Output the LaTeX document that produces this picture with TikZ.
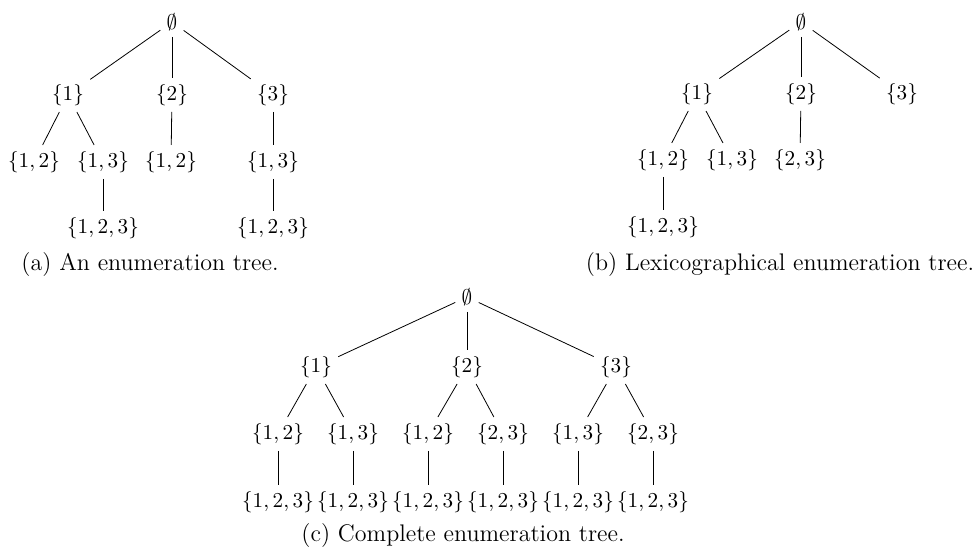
\RequirePackage{fix-cm}
\documentclass[tikz,border=0pt]{standalone}
\begin{document}
\begin{tikzpicture}[x=0.5pt, y=-0.5pt, set/.style={inner sep=3pt, font=\fontsize{10.6}{12.7}\selectfont}, capt/.style={font=\large}]
	\useasboundingbox (0,0) rectangle (976,555);

	% (a)
	\node[set] (ra) at (172,22) {$\emptyset$};
	\node[set] (a1) at (68,95) {$\{1\}$};
	\node[set] (a2) at (172,95) {$\{2\}$};
	\node[set] (a3) at (273,95) {$\{3\}$};
	\node[set] (a12) at (34,162) {$\{1,2\}$};
	\node[set] (a13) at (103,162) {$\{1,3\}$};
	\node[set] (a2x) at (171,162) {$\{1,2\}$};
	\node[set] (a3x) at (273,162) {$\{1,3\}$};
	\node[set] (a123) at (103,228) {$\{1,2,3\}$};
	\node[set] (a3y) at (273,228) {$\{1,2,3\}$};
	\node[capt] (capa) at (150,265) {(a) An enumeration tree.};

	\draw (ra) -- (a1);
	\draw (ra) -- (a2);
	\draw (ra) -- (a3);
	\draw (a1) -- (a12);
	\draw (a1) -- (a13);
	\draw (a2) -- (a2x);
	\draw (a3) -- (a3x);
	\draw (a13) -- (a123);
	\draw (a3x) -- (a3y);

	% (b)
	\node[set] (rb) at (801,22) {$\emptyset$};
	\node[set] (b1) at (697,94) {$\{1\}$};
	\node[set] (b2) at (801,94) {$\{2\}$};
	\node[set] (b3) at (902,94) {$\{3\}$};
	\node[set] (b12) at (663,160) {$\{1,2\}$};
	\node[set] (b13) at (732,160) {$\{1,3\}$};
	\node[set] (b23) at (800,160) {$\{2,3\}$};
	\node[set] (b123) at (663,227) {$\{1,2,3\}$};
	\node[capt] (capb) at (780,265) {(b) Lexicographical enumeration tree.};

	\draw (rb) -- (b1);
	\draw (rb) -- (b2);
	\draw (rb) -- (b3);
	\draw (b1) -- (b12);
	\draw (b1) -- (b13);
	\draw (b2) -- (b23);
	\draw (b12) -- (b123);

	% (c)
	\node[set] (rc) at (467,297) {$\emptyset$};
	\node[set] (c1) at (316,367) {$\{1\}$};
	\node[set] (c2) at (467,367) {$\{2\}$};
	\node[set] (c3) at (616,367) {$\{3\}$};
	\node[set] (c12) at (278,434) {$\{1,2\}$};
	\node[set] (c13) at (353,434) {$\{1,3\}$};
	\node[set] (c21) at (428,434) {$\{1,2\}$};
	\node[set] (c23) at (503,434) {$\{2,3\}$};
	\node[set] (c31) at (578,434) {$\{1,3\}$};
	\node[set] (c32) at (653,434) {$\{2,3\}$};
	\node[set] (c123) at (278,502) {$\{1,2,3\}$};
	\node[set] (c133) at (353,502) {$\{1,2,3\}$};
	\node[set] (c213) at (428,502) {$\{1,2,3\}$};
	\node[set] (c233) at (503,502) {$\{1,2,3\}$};
	\node[set] (c313) at (578,502) {$\{1,2,3\}$};
	\node[set] (c323) at (653,502) {$\{1,2,3\}$};
	\node[capt] (capc) at (463,536) {(c) Complete enumeration tree.};

	\draw (rc) -- (c1);
	\draw (rc) -- (c2);
	\draw (rc) -- (c3);
	\draw (c1) -- (c12);
	\draw (c1) -- (c13);
	\draw (c2) -- (c21);
	\draw (c2) -- (c23);
	\draw (c3) -- (c31);
	\draw (c3) -- (c32);
	\draw (c12) -- (c123);
	\draw (c13) -- (c133);
	\draw (c21) -- (c213);
	\draw (c23) -- (c233);
	\draw (c31) -- (c313);
	\draw (c32) -- (c323);
\end{tikzpicture}
\end{document}
